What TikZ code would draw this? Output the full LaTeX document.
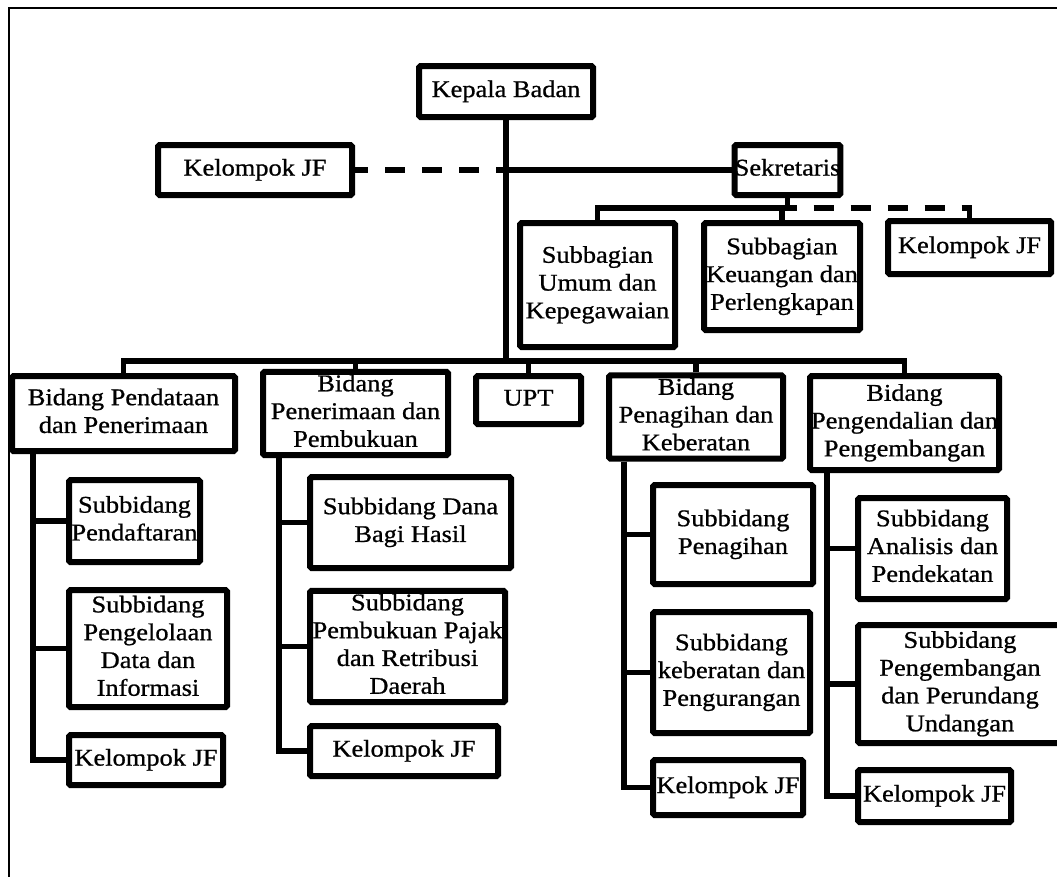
\documentclass[tikz,border=0pt]{standalone}
\usepackage{graphicx}
\usepackage{fontspec}
\setmainfont{Liberation Serif}[FakeBold=0.8]
\tikzset{
  orgbox/.style={draw, line width=6pt, inner sep=0pt, rounded corners=1.5pt,
    font=\fontsize{24}{27.8}\selectfont},
  conn/.style={line width=5.5pt},
  dashconn/.style={conn, dash pattern=on 20pt off 17pt},
  frameline/.style={line width=2pt}
}
\newcommand\obox[6]{%
  \node[orgbox, minimum width={#4pt-#2pt-6pt}, minimum height={#5pt-#3pt-6pt}]
    (#1) at ({(#2+#4)/2},{(#3+#5)/2})
    {\scalebox{1.1}[1]{\begin{tabular}{@{}c@{}}#6\end{tabular}}};}
\begin{document}
\begin{tikzpicture}[x=1pt,y=-1pt]
\useasboundingbox (0,0) rectangle (1057,876);
% outer frame
\draw[frameline] (9,890) -- (9,8) -- (1070,8);
% boxes
\obox{kb}{416}{63}{596}{120}{Kepala Badan}
\obox{kjf0}{155}{142}{355}{198}{Kelompok JF}
\obox{sek}{732}{142}{843}{198}{Sekretaris}
\obox{sbu}{517}{220}{678}{350}{Subbagian\\Umum dan\\Kepegawaian}
\obox{sbk}{701}{220}{863}{333}{Subbagian\\Keuangan dan\\Perlengkapan}
\obox{kjfs}{885}{218}{1054}{277}{Kelompok JF}
\obox{bpd}{9}{373}{238}{454}{Bidang Pendataan\\dan Penerimaan}
\obox{bpp}{260}{373}{451}{454}{Bidang\\Penerimaan dan\\Pembukuan}
\obox{upt}{473}{373}{584}{427}{UPT}
\obox{bpk}{606}{373}{786}{461}{Bidang\\Penagihan dan\\Keberatan}
\obox{bpg}{807}{373}{1002}{473}{Bidang\\Pengendalian dan\\Pengembangan}
\obox{s11}{66}{477}{203}{565}{Subbidang\\Pendaftaran}
\obox{s12}{66}{587}{230}{710}{Subbidang\\Pengelolaan\\Data dan\\Informasi}
\obox{s13}{66}{732}{226}{788}{Kelompok JF}
\obox{s21}{307}{474}{514}{571}{Subbidang Dana\\Bagi Hasil}
\obox{s22}{307}{593}{508}{700}{Subbidang\\Pembukuan Pajak\\dan Retribusi\\Daerah}
\obox{s23}{307}{723}{501}{779}{Kelompok JF}
\obox{s31}{650}{482}{816}{587}{Subbidang\\Penagihan}
\obox{s32}{650}{609}{813}{736}{Subbidang\\keberatan dan\\Pengurangan}
\obox{s33}{650}{757}{806}{818}{Kelompok JF}
\obox{s41}{855}{495}{1010}{602}{Subbidang\\Analisis dan\\Pendekatan}
\obox{s42}{855}{622}{1065}{746}{Subbidang\\Pengembangan\\dan Perundang\\Undangan}
\obox{s43}{855}{767}{1014}{825}{Kelompok JF}
% junctions
\coordinate (jb) at (506,361);
\coordinate (js) at (787,208);
\coordinate (c1) at (33,0);
\coordinate (c2) at (279,0);
\coordinate (c3) at (624,0);
\coordinate (c4) at (827,0);
% top part
\draw[conn] (kb.south) -- (kb.south |- jb);
\draw[conn] (kb.south |- sek.west) -- (sek.west);
\draw[dashconn, dash phase=7pt] (kjf0.east) -- (kb.south |- kjf0.east);
\draw[conn] (sek.south) -- (sek.south |- js);
\draw[conn] (sbu.north) |- (sek.south |- js);
\draw[conn] (sbk.north) -- (sbk.north |- js);
\draw[dashconn, dash phase=11pt] (sek.south |- js) -| (kjfs.north);
% bidang bar
\draw[conn] (bpd.north) |- (bpg.north |- jb) -- (bpg.north);
\foreach \n in {bpp,upt,bpk} \draw[conn] (\n.north) -- (\n.north |- jb);
% columns
\foreach \s in {s11,s12,s13} \draw[conn] (bpd.south -| c1) |- (\s.west);
\foreach \s in {s21,s22,s23} \draw[conn] (bpp.south -| c2) |- (\s.west);
\foreach \s in {s31,s32,s33} \draw[conn] (bpk.south -| c3) |- (\s.west);
\foreach \s in {s41,s42,s43} \draw[conn] (bpg.south -| c4) |- (\s.west);
\end{tikzpicture}
\end{document}
